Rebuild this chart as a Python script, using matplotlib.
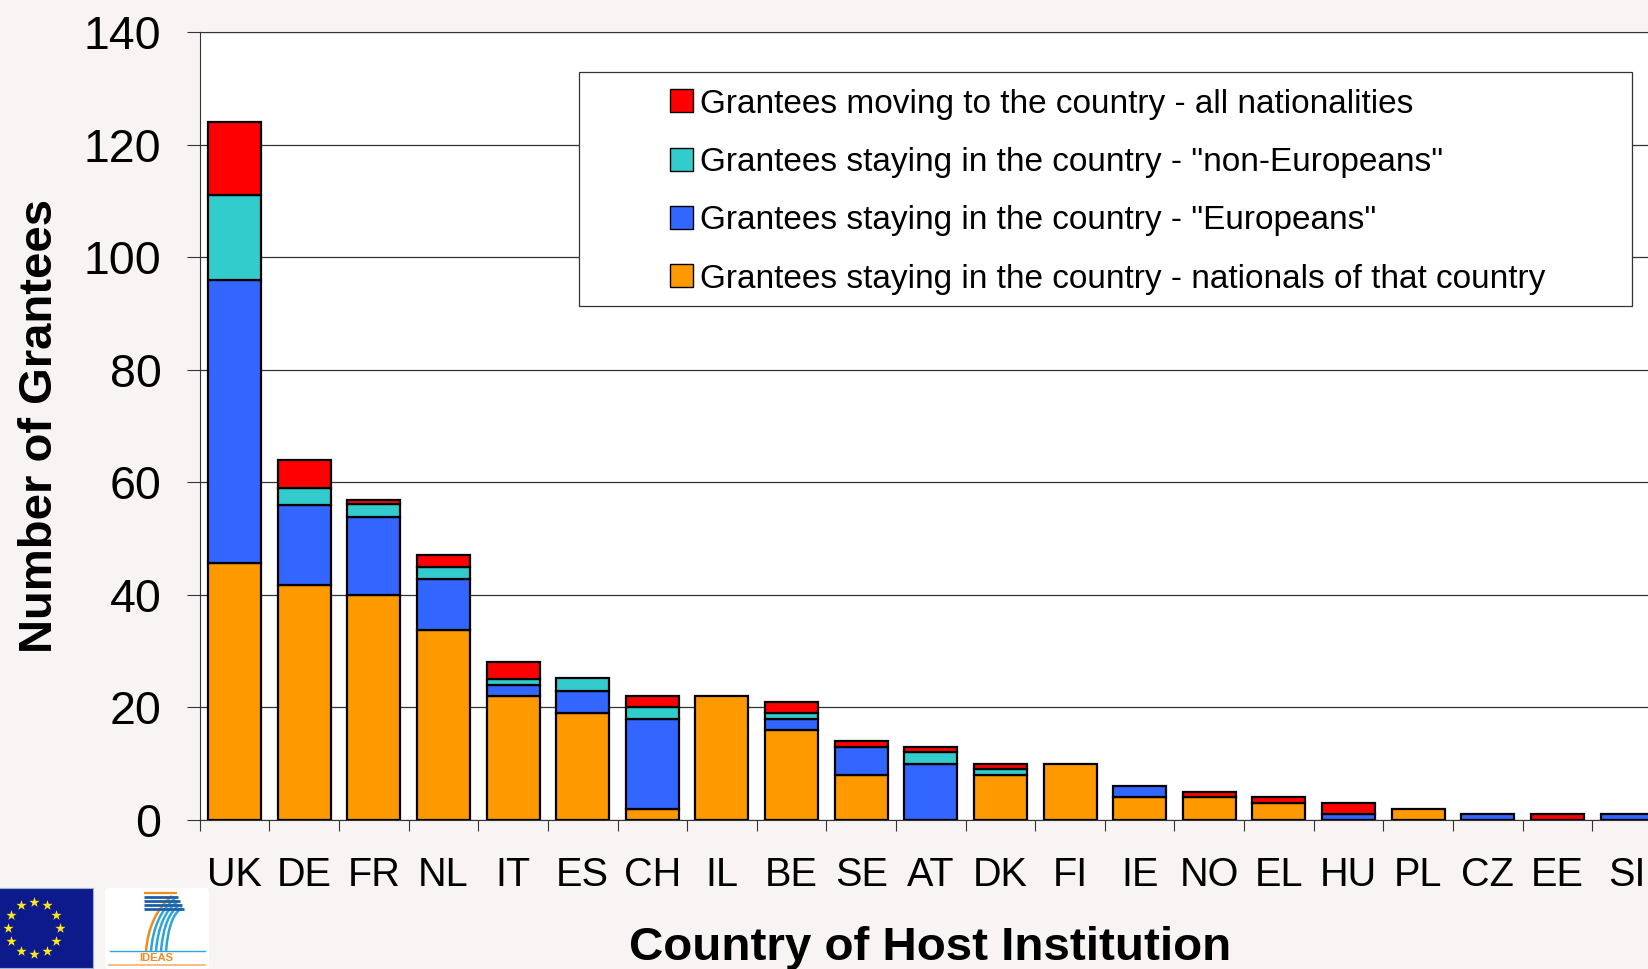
import numpy as np
import matplotlib
matplotlib.use("Agg")
import matplotlib.pyplot as plt
from matplotlib.patches import Rectangle, FancyBboxPatch, PathPatch, Patch
from matplotlib.path import Path

plt.rcParams['font.family'] = ['Liberation Sans', 'DejaVu Sans']

countries = ["UK","DE","FR","NL","IT","ES","CH","IL","BE","SE","AT","DK","FI","IE","NO","EL","HU","PL","CZ","EE","SI"]
nationals = [45.7,41.8,40,33.8,22,19,2,22,16,8,0,8,10,4,4,3,0,2,0,0,0]
europeans = [50.3,14.2,13.8,9,2,4,16,0,2,5,10,0,0,2,0,0,1,0,1,0,1]
non_europeans = [15,3,2.4,2.1,1,2.2,2,0,1,0,2,1,0,0,0,0,0,0,0,0,0]
moving = [13,5,0.7,2.1,3,0,2,0,2,1,1,1,0,0,1,1,2,0,0,1,0]
yticks = [0,20,40,60,80,100,120,140]

series = [
    ("Grantees staying in the country - nationals of that country", nationals, "#FF9900"),
    ('Grantees staying in the country - "Europeans"', europeans, "#3366FF"),
    ('Grantees staying in the country - "non-Europeans"', non_europeans, "#33CCCC"),
    ("Grantees moving to the country - all nationalities", moving, "#FF0000"),
]

W, H = 1648, 969
BG = "#F7F4F3"
fig = plt.figure(figsize=(W/100, H/100), dpi=100, facecolor=BG)
L, T, B, STEP = 199.8, 32.0, 820.0, 69.62
ax = fig.add_axes([L/W, 1-B/H, STEP*len(countries)/W, (B-T)/H], facecolor="white")

x = np.arange(len(countries))
bottom = np.zeros(len(countries))
for label, vals, col in series:
    v = np.array(vals, dtype=float)
    mask = v > 0
    ax.bar(x[mask], v[mask], 0.76, bottom=bottom[mask], color=col, edgecolor="black", linewidth=1.6, zorder=3)
    bottom += v

ax.set_xlim(-0.5, len(countries)-0.5)
ax.set_ylim(0, 140)
ax.set_yticks(yticks)
ax.yaxis.grid(True, color="#333333", linewidth=0.9, zorder=0)
ax.set_axisbelow(True)
ax.tick_params(axis='y', labelsize=33.5, length=9.5, width=0.8, pad=18, color="#333333")
ax.set_xticks(x)
ax.set_xticklabels(countries)
ax.set_xticks(np.arange(-0.5, len(countries)), minor=True)
ax.tick_params(axis='x', which='major', length=0, labelsize=28.5, pad=26)
ax.tick_params(axis='x', which='minor', length=8, width=0.8, color="#333333")
for s in ax.spines.values():
    s.set_linewidth(0.8)
    s.set_color("#333333")

# overlay in pixel coordinates for the legend box, axis titles and logos
ov = fig.add_axes([0, 0, 1, 1], facecolor="none")
ov.set_xlim(0, W)
ov.set_ylim(H, 0)
ov.axis("off")

ov.text(40, 425.5, "Number of Grantees", rotation=90, ha="center", va="center",
        fontsize=34, fontweight="bold")
ov.text(930.5, 948, "Country of Host Institution", ha="center", va="center",
        fontsize=34.2, fontweight="bold")

ov.add_patch(Rectangle((579, 72), 1053, 234, facecolor="white", edgecolor="#333333", linewidth=0.9, zorder=2))
handles = [Patch(facecolor=c, edgecolor="black", linewidth=1.0, label=l) for l, _, c in series[::-1]]
leg = ov.legend(handles=handles, loc="upper left", bbox_to_anchor=(670.5, 88.5),
                bbox_transform=ov.transData, frameon=False, fontsize=24, borderpad=0, borderaxespad=0,
                handlelength=0.68, handleheight=0.68, handletextpad=0.22, labelspacing=0.82)
leg.set_zorder(3)

# EU flag
ov.add_patch(Rectangle((-2, 888), 95, 80, facecolor="#0C1A8C", edgecolor="#9FB0D8", linewidth=0.8))
ang = np.deg2rad(np.arange(0, 360, 30))
ov.scatter(33.7 + 26*np.cos(ang), 928 + 26*np.sin(ang), marker="*", s=60, color="#FFE91A", linewidths=0)

# FP7 IDEAS logo
ov.add_patch(FancyBboxPatch((105, 888), 104, 81, boxstyle="round,pad=0,rounding_size=4",
                            facecolor="white", edgecolor="none"))
ov.plot([144, 177], [893, 893], color="#F08C1E", lw=1.6, solid_capstyle="butt")
for yy, x1 in [(897, 178), (901, 180), (905, 182), (909, 184)]:
    ov.plot([144, x1], [yy, yy], color="#1F5FA8", lw=2.0, solid_capstyle="butt")
for i, (bx, c) in enumerate([(146, "#F08C1E"), (151, "#2FA4DC"), (156, "#2FA4DC"), (161, "#2FA4DC"), (166, "#2FA4DC")]):
    ov.add_patch(PathPatch(Path([(bx, 951), (bx + 3, 915), (172 + i*2.5, 896 + i*3)],
                                [Path.MOVETO, Path.CURVE3, Path.CURVE3]),
                           facecolor="none", edgecolor=c, linewidth=1.8))
ov.plot([110, 205], [951, 951], color="#2FA4DC", lw=1.0)
ov.text(156.5, 958, "IDEAS", ha="center", va="center", fontsize=8, fontweight="bold", color="#F08C1E")
ov.plot([109, 205], [965, 965], color="#F5B070", lw=1.2)

fig.savefig("out.png", dpi=100, facecolor=BG)
